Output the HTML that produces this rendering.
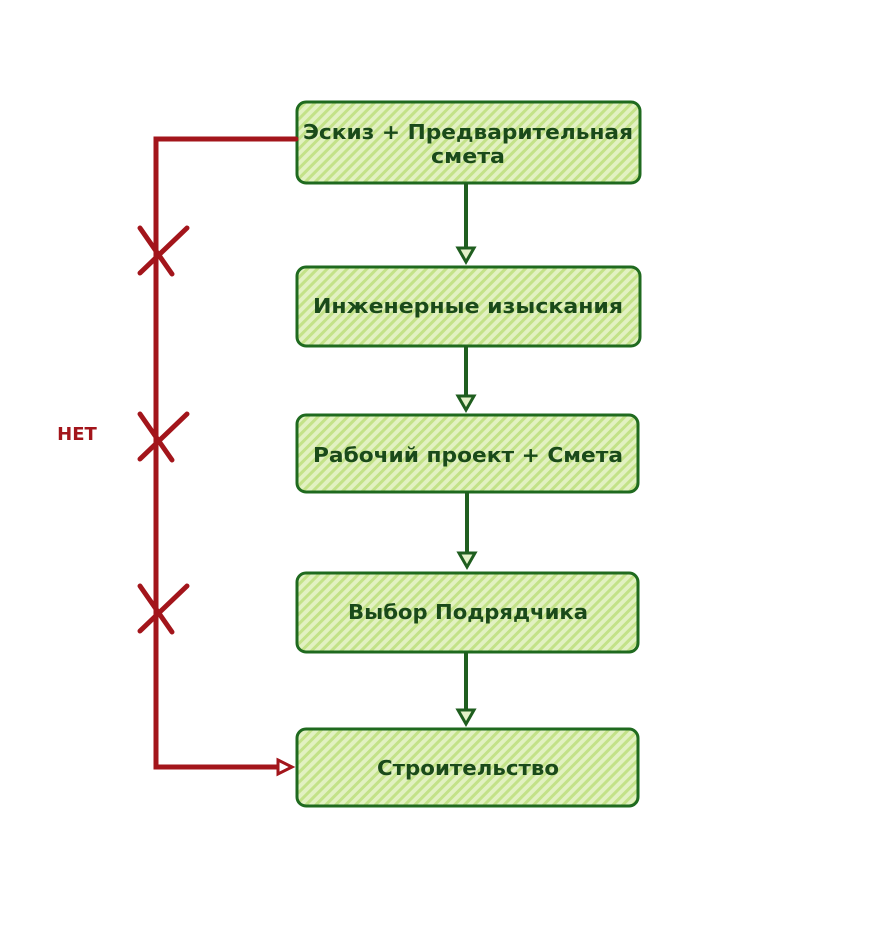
<!DOCTYPE html>
<html><head><meta charset="utf-8"><style>
html,body{margin:0;padding:0;background:#fff;width:892px;height:948px;overflow:hidden}
</style></head><body>
<svg width="892" height="948" viewBox="0 0 892 948" xmlns="http://www.w3.org/2000/svg">
<defs>
<pattern id="h" width="7" height="7" patternUnits="userSpaceOnUse" patternTransform="rotate(45)">
<rect width="7" height="7" fill="#e2f1c2"/>
<rect width="3" height="7" fill="#c3e288"/>
</pattern>
</defs>
<g stroke="#1f6a1f" stroke-width="3" fill="url(#h)">
<rect x="297" y="102" width="343" height="81" rx="9"/>
<rect x="297" y="267" width="343" height="79" rx="9"/>
<rect x="297" y="415" width="341" height="77" rx="9"/>
<rect x="297" y="573" width="341" height="79" rx="9"/>
<rect x="297" y="729" width="341" height="77" rx="9"/>
</g>
<g stroke="#1f5e1f" stroke-width="4" fill="#e4f2c8">
<line x1="466" y1="183" x2="466" y2="248"/>
<polygon points="458,248 474,248 466,262" stroke-width="3"/>
<line x1="466" y1="346" x2="466" y2="396"/>
<polygon points="458,396 474,396 466,410" stroke-width="3"/>
<line x1="467" y1="492" x2="467" y2="553"/>
<polygon points="459,553 475,553 467,567" stroke-width="3"/>
<line x1="466" y1="652" x2="466" y2="710"/>
<polygon points="458,710 474,710 466,724" stroke-width="3"/>
</g>
<g stroke="#a3151b" stroke-width="5" fill="none" stroke-linecap="round">
<polyline points="296,139 156,139 156,767 280,767"/>
<polygon points="278,760 292,767 278,774" stroke-width="3" fill="#fff"/>
<line x1="187" y1="228" x2="140" y2="273"/>
<line x1="140" y1="228" x2="172" y2="274"/>
<line x1="187" y1="414" x2="140" y2="459"/>
<line x1="140" y1="414" x2="172" y2="460"/>
<line x1="187" y1="586" x2="140" y2="631"/>
<line x1="140" y1="586" x2="172" y2="632"/>
</g>
<g font-family="'DejaVu Sans','Liberation Sans',sans-serif" font-weight="bold" font-size="20" fill="#1a4a1a" text-anchor="middle">
<text x="468" y="139" textLength="330" lengthAdjust="spacingAndGlyphs">Эскиз + Предварительная</text>
<text x="468" y="163" textLength="74" lengthAdjust="spacingAndGlyphs">смета</text>
<text x="468" y="313" textLength="310" lengthAdjust="spacingAndGlyphs">Инженерные изыскания</text>
<text x="468" y="462" textLength="310" lengthAdjust="spacingAndGlyphs">Рабочий проект + Смета</text>
<text x="468" y="619" textLength="240" lengthAdjust="spacingAndGlyphs">Выбор Подрядчика</text>
<text x="468" y="775" textLength="182" lengthAdjust="spacingAndGlyphs">Строительство</text>
</g>
<text x="77" y="440" font-family="'DejaVu Sans',sans-serif" font-weight="bold" font-size="18" fill="#a3151b" text-anchor="middle">НЕТ</text>
</svg>
</body></html>
